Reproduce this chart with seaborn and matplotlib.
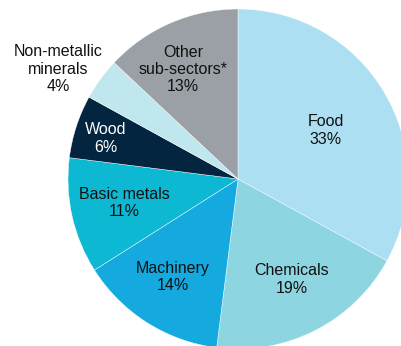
"""Manufacturing sub-sector shares pie chart."""

import numpy as np
import matplotlib
matplotlib.use("Agg")
import matplotlib.pyplot as plt
import seaborn as sns

# data
sectors = ["Food", "Chemicals", "Machinery", "Basic metals", "Wood",
           "Non-metallic\nminerals", "Other\nsub-sectors*"]
shares = [33, 19, 14, 11, 6, 4, 13]
colors = ["#ADDFF3", "#8ED5E2", "#14AAE0", "#0CB8D2", "#03253F",
          "#C0E6EE", "#9AA0A5"]
label_colors = ["#111111", "#111111", "#111111", "#111111", "white",
                "#111111", "#111111"]
# label placement: radius (fraction of pie radius) and angle nudge (deg)
label_radius = [0.59, 0.67, 0.69, 0.685, 0.815, 1.24, 0.72]
label_nudge = [-1.6, 1.2, -1.2, -0.6, 1.0, 4.6, 3.2]

sns.set_theme(style="white")
plt.rcParams["font.family"] = ["Liberation Sans", "DejaVu Sans"]

fig = plt.figure(figsize=(4.01, 3.46), dpi=100)
ax = fig.add_axes([0, 0, 1, 1])

wedges, _ = ax.pie(shares, colors=colors, startangle=90, counterclock=False,
                   radius=1.0, wedgeprops=dict(edgecolor="white", linewidth=0.3))

for w, name, pct, r, d, c in zip(wedges, sectors, shares, label_radius,
                                 label_nudge, label_colors):
    mid = np.deg2rad((w.theta1 + w.theta2) / 2 + d)
    ax.text(r * np.cos(mid), r * np.sin(mid), f"{name}\n{pct}%",
            ha="center", va="center", fontsize=11.5, color=c, linespacing=1.2)

# pixel scale ~170 px per unit radius, centre at (238, 179) px
ax.set_xlim(-238 / 170, (401 - 238) / 170)
ax.set_ylim(-(346 - 179) / 170, 179 / 170)
ax.set_aspect("auto")
ax.axis("off")

fig.savefig("out.png", dpi=100)
